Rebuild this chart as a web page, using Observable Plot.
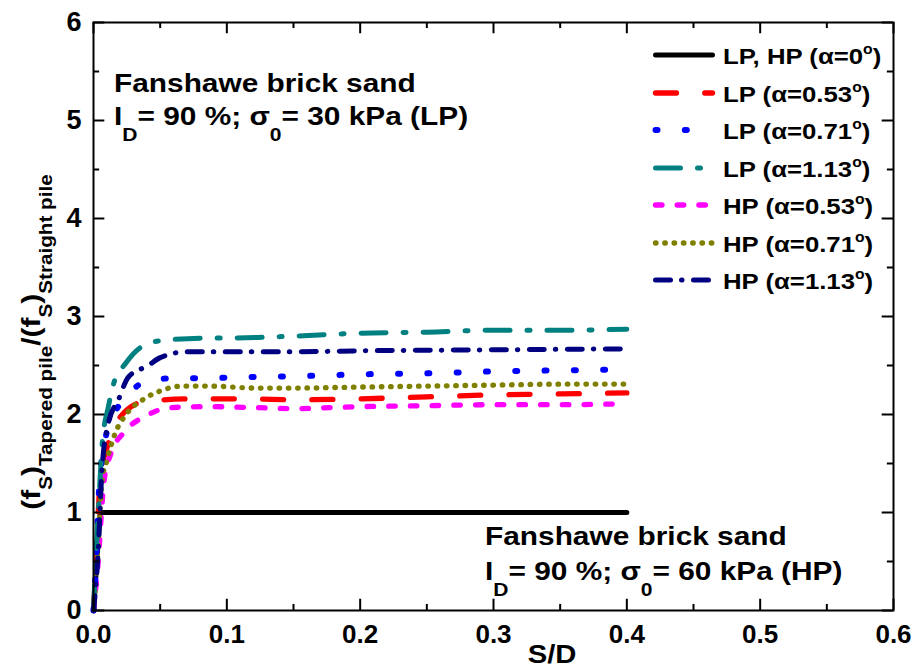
<!DOCTYPE html>
<html><head><meta charset="utf-8">
<script src="https://cdn.jsdelivr.net/npm/d3@7"></script>
<script src="https://cdn.jsdelivr.net/npm/@observablehq/plot@0.6"></script>
<style>
html,body{margin:0;padding:0;background:#fff;}
svg text{font-family:"Liberation Sans",Arial,sans-serif;}
</style>
</head><body><div id="chart"></div>
<script>
// ---- data ----
const xTicks = [0, 0.1, 0.2, 0.3, 0.4, 0.5, 0.6];
const xTickLabels = ["0.0", "0.1", "0.2", "0.3", "0.4", "0.5", "0.6"];
const xMinor = [0.05, 0.15, 0.25, 0.35, 0.45, 0.55];
const yTicks = [0, 1, 2, 3, 4, 5, 6];
const yTickLabels = ["0", "1", "2", "3", "4", "5", "6"];
const yMinor = [0.5, 1.5, 2.5, 3.5, 4.5, 5.5];

const seriesPile = ["LP, HP", "LP", "LP", "LP", "HP", "HP", "HP"];
const seriesAlpha = ["0", "0.53", "0.71", "1.13", "0.53", "0.71", "1.13"];

const sd_0 = [0, 0.005, 0.4];
const f_0 = [0, 1, 1];
const sd_LP053 = [0, 0.002, 0.005, 0.011, 0.023, 0.038, 0.075, 0.117, 0.15, 0.2, 0.25, 0.3, 0.35, 0.4];
const f_LP053 = [0, 0.5, 1.33, 1.7, 2.02, 2.13, 2.16, 2.16, 2.15, 2.16, 2.18, 2.2, 2.21, 2.22];
const sd_LP071 = [0, 0.002, 0.004, 0.01, 0.02, 0.03, 0.041, 0.062, 0.086, 0.107, 0.15, 0.2, 0.25, 0.3, 0.35, 0.4];
const f_LP071 = [0, 0.5, 1.19, 1.82, 2.11, 2.26, 2.35, 2.37, 2.37, 2.38, 2.39, 2.41, 2.42, 2.44, 2.45, 2.46];
const sd_LP113 = [0, 0.002, 0.004, 0.0065, 0.011, 0.015, 0.024, 0.04, 0.055, 0.087, 0.1, 0.15, 0.2, 0.25, 0.3, 0.35, 0.4];
const f_LP113 = [0, 0.6, 1.1, 1.7, 2.07, 2.31, 2.52, 2.72, 2.76, 2.78, 2.78, 2.8, 2.83, 2.84, 2.86, 2.86, 2.87];
const sd_HP053 = [0, 0.003, 0.008, 0.013, 0.023, 0.04, 0.057, 0.087, 0.122, 0.15, 0.2, 0.25, 0.3, 0.35, 0.4];
const f_HP053 = [0, 0.41, 1.33, 1.6, 1.82, 1.99, 2.07, 2.08, 2.07, 2.06, 2.08, 2.09, 2.1, 2.1, 2.11];
const sd_HP071 = [0, 0.003, 0.0065, 0.01, 0.016, 0.025, 0.038, 0.05, 0.067, 0.087, 0.122, 0.15, 0.2, 0.25, 0.3, 0.35, 0.4];
const f_HP071 = [0, 0.58, 1.33, 1.53, 1.8, 2.01, 2.16, 2.24, 2.29, 2.29, 2.27, 2.27, 2.28, 2.29, 2.3, 2.31, 2.31];
const sd_HP113 = [0, 0.003, 0.0065, 0.011, 0.019, 0.026, 0.041, 0.05, 0.07, 0.09, 0.15, 0.2, 0.3, 0.4];
const f_HP113 = [0, 0.48, 1.46, 1.9, 2.16, 2.38, 2.5, 2.58, 2.64, 2.64, 2.64, 2.65, 2.66, 2.67];

const seriesX = [sd_0, sd_LP053, sd_LP071, sd_LP113, sd_HP053, sd_HP071, sd_HP113];
const seriesY = [f_0, f_LP053, f_LP071, f_LP113, f_HP053, f_HP071, f_HP113];

// ---- styles ----
const styles = [
  {color: "#000000", width: 5, dash: null, curve: "linear"},
  {color: "#ff0000", width: 5.3, dash: "21,28.3", curve: "monotone-x"},
  {color: "#0000ff", width: 6, dash: "2,27.3", curve: "monotone-x"},
  {color: "#008080", width: 5, dash: "25,17,3,17", curve: "monotone-x"},
  {color: "#ff00ff", width: 5.3, dash: "6.5,15.2", curve: "monotone-x"},
  {color: "#808000", width: 5.3, dash: "0.5,8.8", curve: "monotone-x"},
  {color: "#000080", width: 5, dash: "15,11,0.5,11.5", curve: "monotone-x"}
];

const rows = [];
seriesX.forEach((xs, s) => xs.forEach((v, i) => rows.push({s, x: v, y: seriesY[s][i]})));

const drawOrder = [0, 1, 4, 5, 2, 3, 6];

const plot = Plot.plot({
  width: 917, height: 668,
  marginLeft: 93, marginRight: 24, marginTop: 22, marginBottom: 58,
  x: {domain: [0, 0.6], label: null},
  y: {domain: [0, 6], label: null},
  style: {background: "white", fontFamily: "Liberation Sans, Arial, sans-serif", color: "black"},
  marks: [
    ...drawOrder.map(s => Plot.line(rows.filter(r => r.s === s), {
      x: "x", y: "y", stroke: styles[s].color, strokeWidth: styles[s].width,
      strokeDasharray: styles[s].dash, strokeLinecap: "round", strokeLinejoin: "round",
      curve: styles[s].curve
    })),
    Plot.frame({stroke: "black", strokeWidth: 2}),
    Plot.ruleX(xTicks, {x: d => d, y1: 0, y2: 0.115, stroke: "black", strokeWidth: 2}),
    Plot.ruleX(xTicks, {x: d => d, y1: 6, y2: 6 - 0.115, stroke: "black", strokeWidth: 2}),
    Plot.ruleX(xMinor, {x: d => d, y1: 0, y2: 0.062, stroke: "black", strokeWidth: 2}),
    Plot.ruleX(xMinor, {x: d => d, y1: 6, y2: 6 - 0.062, stroke: "black", strokeWidth: 2}),
    Plot.ruleY(yTicks, {y: d => d, x1: 0, x2: 0.0085, stroke: "black", strokeWidth: 2}),
    Plot.ruleY(yTicks, {y: d => d, x1: 0.6, x2: 0.6 - 0.0085, stroke: "black", strokeWidth: 2}),
    Plot.ruleY(yMinor, {y: d => d, x1: 0, x2: 0.0046, stroke: "black", strokeWidth: 2}),
    Plot.ruleY(yMinor, {y: d => d, x1: 0.6, x2: 0.6 - 0.0046, stroke: "black", strokeWidth: 2}),
    Plot.axisX({ticks: xTicks, tickSize: 0, tickPadding: 14, fontSize: 26, fontWeight: "bold",
      tickFormat: d => xTickLabels[xTicks.indexOf(d)], label: null}),
    Plot.axisY({ticks: yTicks, tickSize: 0, tickPadding: 12, fontSize: 27, fontWeight: "bold",
      tickFormat: d => yTickLabels[yTicks.indexOf(d)], label: null})
  ]
});
document.getElementById("chart").appendChild(plot);

const svg = d3.select(plot);
const FONT = "Liberation Sans, Arial, sans-serif";

// X label
svg.append("g").attr("transform", "translate(552,663) scale(1.17,1)")
  .append("text").attr("text-anchor", "middle").attr("font-size", 25).attr("font-weight", "bold")
  .attr("font-family", FONT).attr("fill", "black").text("S/D");

// Y label
{
  const t = svg.append("text")
    .attr("transform", "translate(40,342) rotate(-90) scale(1.15,1)")
    .attr("text-anchor", "middle").attr("font-size", 26).attr("font-weight", "bold")
    .attr("font-family", FONT).attr("fill", "black");
  t.append("tspan").text("(f");
  t.append("tspan").attr("font-size", 18).attr("dy", 12).text("S");
  t.append("tspan").attr("dy", -12).text(")");
  t.append("tspan").attr("font-size", 18).attr("dy", 12).text("Tapered pile");
  t.append("tspan").attr("dy", -12).text("/(f");
  t.append("tspan").attr("font-size", 18).attr("dy", 12).text("S");
  t.append("tspan").attr("dy", -12).text(")");
  t.append("tspan").attr("font-size", 18).attr("dy", 12).text("Straight pile");
}

// Annotations
function annotation(x, y1, y2, sigma, pile) {
  const g = svg.append("g").attr("transform", `translate(${x},0) scale(1.17,1)`)
    .attr("font-family", FONT).attr("font-weight", "bold").attr("fill", "black")
    .attr("text-anchor", "start");
  g.append("text").attr("text-anchor", "start").attr("x", 0).attr("y", y1).attr("font-size", 25.5).text("Fanshawe brick sand");
  const t = g.append("text").attr("text-anchor", "start").attr("x", 0).attr("y", y2).attr("font-size", 25.5);
  t.append("tspan").text("I");
  t.append("tspan").attr("font-size", 18).attr("dy", 16).text("D");
  t.append("tspan").attr("dy", -16).text("= 90 %; σ");
  t.append("tspan").attr("font-size", 18).attr("dy", 16).text("0");
  t.append("tspan").attr("dy", -16).text(`= ${sigma} kPa (${pile})`);
}
annotation(114, 92, 125, "30", "LP");
annotation(485, 545, 580, "60", "HP");

// Legend
const legendRows = [55, 93, 130, 168, 205, 243, 280];
seriesPile.forEach((p, s) => {
  const cy = legendRows[s];
  svg.append("path").attr("d", `M655.5,${cy}L712.5,${cy}`)
    .attr("stroke", styles[s].color).attr("stroke-width", styles[s].width)
    .attr("stroke-dasharray", styles[s].dash).attr("stroke-linecap", "round").attr("fill", "none");
  const g = svg.append("g").attr("transform", `translate(723,${cy + 8.5}) scale(1.12,1)`);
  const t = g.append("text").attr("text-anchor", "start").attr("font-size", 23).attr("font-weight", "bold")
    .attr("font-family", FONT).attr("fill", "black");
  t.append("tspan").text(`${p} (α=${seriesAlpha[s]}`);
  t.append("tspan").attr("font-size", 14).attr("dy", -9.5).text("o");
  t.append("tspan").attr("dy", 9.5).text(")");
});
</script>
</body></html>
